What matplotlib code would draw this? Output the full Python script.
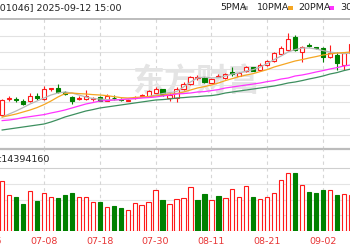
import matplotlib
matplotlib.use("Agg")
import matplotlib.pyplot as plt
import matplotlib.transforms as mtransforms
from matplotlib.patches import Rectangle
import numpy as np

# ---------------- data ----------------
dates = ['06-30', '07-01', '07-02', '07-03', '07-04', '07-07', '07-08', '07-09', '07-10', '07-11',
         '07-14', '07-15', '07-16', '07-17', '07-18', '07-21', '07-22', '07-23', '07-24', '07-25',
         '07-28', '07-29', '07-30', '07-31', '08-01', '08-04', '08-05', '08-06', '08-07', '08-08',
         '08-11', '08-12', '08-13', '08-14', '08-15', '08-18', '08-19', '08-20', '08-21', '08-22',
         '08-25', '08-26', '08-27', '08-28', '08-29', '09-01', '09-02', '09-03', '09-04', '09-05',
         '09-08']

opens = [14.25, 15.07, 15.05, 14.95, 14.95, 15.20, 15.05, 15.55, 15.60, 15.40,
         15.15, 15.07, 15.05, 15.07, 15.15, 14.97, 15.12, 15.05, 14.97, 15.10,
         15.20, 15.22, 15.37, 15.55, 15.10, 15.10, 15.55, 15.80, 16.12, 16.10,
         15.87, 16.17, 16.10, 16.40, 16.22, 16.45, 16.65, 16.52, 16.75, 16.95,
         17.32, 17.50, 18.15, 17.40, 17.77, 17.65, 17.60, 17.15, 17.25, 16.75,
         17.35]
closes = [15.00, 15.10, 15.02, 14.82, 15.20, 15.10, 15.55, 15.60, 15.40, 15.30,
          14.95, 15.12, 15.20, 15.12, 14.97, 15.20, 15.10, 15.00, 15.02, 15.15,
          15.25, 15.45, 15.57, 15.25, 15.25, 15.55, 15.82, 16.17, 16.15, 15.90,
          16.05, 16.20, 16.30, 16.32, 16.37, 16.65, 16.47, 16.77, 16.97, 17.35,
          17.60, 18.05, 17.50, 17.65, 17.72, 17.60, 17.15, 17.35, 16.85, 17.35,
          17.80]
highs = [15.05, 15.20, 15.15, 15.05, 15.35, 15.35, 15.70, 15.62, 15.80, 15.45,
         15.20, 15.20, 15.50, 15.15, 15.20, 15.30, 15.25, 15.10, 15.05, 15.20,
         15.30, 15.50, 15.67, 15.57, 15.35, 15.65, 15.92, 16.22, 16.27, 16.15,
         16.10, 16.30, 16.35, 16.65, 16.40, 16.70, 16.67, 16.85, 17.00, 17.40,
         17.70, 18.35, 18.25, 17.70, 17.85, 17.67, 17.65, 17.75, 17.40, 17.40,
         17.90]
lows = [14.20, 14.95, 14.90, 14.75, 14.90, 15.00, 15.00, 15.45, 15.35, 15.25,
        14.80, 15.02, 15.00, 14.95, 14.95, 14.95, 15.00, 14.95, 14.95, 15.07,
        15.17, 15.20, 15.35, 15.22, 14.95, 14.90, 15.50, 15.77, 16.00, 15.85,
        15.85, 16.15, 16.07, 16.20, 16.20, 16.42, 16.45, 16.50, 16.72, 16.90,
        17.30, 17.45, 17.45, 16.90, 17.65, 17.57, 16.90, 17.10, 16.50, 16.50,
        17.30]

ma5 = [14.15, 14.30, 14.45, 14.62, 14.80, 14.95, 15.10, 15.25, 15.35, 15.40,
       15.35, 15.25, 15.15, 15.07, 15.05, 15.02, 15.00, 15.02, 15.05, 15.07,
       15.12, 15.17, 15.25, 15.32, 15.37, 15.42, 15.65, 15.90, 16.10, 16.15,
       16.10, 16.12, 16.20, 16.30, 16.35, 16.45, 16.52, 16.65, 16.82, 17.02,
       17.20, 17.40, 17.52, 17.60, 17.60, 17.55, 17.47, 17.40, 17.35, 17.32,
       17.35]
ma10 = [14.15, 14.22, 14.30, 14.40, 14.50, 14.62, 14.77, 14.95, 15.15, 15.32,
        15.35, 15.32, 15.30, 15.27, 15.25, 15.22, 15.17, 15.12, 15.10, 15.12,
        15.15, 15.17, 15.20, 15.25, 15.30, 15.32, 15.40, 15.50, 15.60, 15.67,
        15.75, 15.85, 15.97, 16.07, 16.17, 16.25, 16.32, 16.42, 16.52, 16.65,
        16.75, 16.85, 16.95, 17.02, 17.10, 17.17, 17.25, 17.30, 17.35, 17.37,
        17.40]
ma20 = [13.97, 14.00, 14.05, 14.12, 14.17, 14.22, 14.27, 14.35, 14.42, 14.50,
        14.60, 14.70, 14.80, 14.87, 14.95, 14.97, 15.00, 15.02, 15.05, 15.07,
        15.10, 15.12, 15.15, 15.20, 15.25, 15.30, 15.32, 15.35, 15.40, 15.42,
        15.47, 15.52, 15.60, 15.65, 15.70, 15.75, 15.80, 15.85, 15.92, 15.97,
        16.05, 16.10, 16.20, 16.25, 16.32, 16.40, 16.47, 16.55, 16.62, 16.70,
        16.75]
ma30 = [13.50, 13.55, 13.60, 13.65, 13.70, 13.75, 13.80, 13.90, 14.02, 14.15,
        14.25, 14.35, 14.45, 14.52, 14.60, 14.65, 14.70, 14.75, 14.80, 14.85,
        14.90, 14.95, 15.00, 15.02, 15.05, 15.10, 15.12, 15.15, 15.17, 15.20,
        15.22, 15.27, 15.35, 15.40, 15.45, 15.50, 15.55, 15.60, 15.65, 15.70,
        15.77, 15.85, 15.90, 15.97, 16.05, 16.12, 16.20, 16.30, 16.37, 16.47,
        16.55]

volumes = [31.8, 22.9, 21.4, 17.1, 25.4, 19.1, 23.9, 21.8, 20.8, 22.9,
           23.9, 21.4, 21.4, 18.2, 18.2, 15.0, 16.1, 14.4, 13.1, 17.6,
           16.7, 18.2, 25.8, 19.7, 17.3, 20.3, 20.8, 27.7, 19.7, 23.7,
           19.7, 22.0, 20.8, 26.7, 21.8, 28.8, 21.8, 20.3, 21.8, 23.9,
           32.2, 36.6, 36.6, 29.2, 24.8, 24.1, 26.0, 25.8, 23.1, 23.7,
           22.9]  # millions of shares
vol_up = "RRGGRGRRGG" "GRRRGRGGRR" "RRRGRRRRGG" "RGRRRRGRRR" "RRGRGGGRGR" "R"

tick_labels = ['06-26', '07-08', '07-18', '07-30', '08-11', '08-21', '09-02']
price_grid = [13.25, 14.08, 14.91, 15.74, 16.57, 17.40, 18.22]
vol_grid = [10, 20, 30, 40]

header_text = '(001046] 2025-09-12 15:00'
vol_text = ':14394160'
legend_names = ['5PMA', '10PMA', '20PMA', '30PMA']
watermark = '东方财富'

# ---------------- styling ----------------
RED = '#ff1a1a'
GREEN = '#008000'
MA_COLORS = ['#b8b8b8', '#f5a623', '#ff33ff', '#3d8f5f']
W, H = 350, 250

fig = plt.figure(figsize=(W / 100, H / 100), dpi=100)
fig.patch.set_facecolor('white')


def fy(ypx):
    return 1 - ypx / H


ax = fig.add_axes([0, fy(149), 1, (149 - 19) / H])
axv = fig.add_axes([0, fy(231), 1, (231 - 149) / H])

x = np.arange(len(dates))
for a in (ax, axv):
    a.set_xlim(-0.31, 49.87)
    a.set_xticks([])
    a.set_yticks([])
    a.set_facecolor('none')
    for s in a.spines.values():
        s.set_visible(False)

ax.set_ylim(12.55, 19.05)
axv.set_ylim(0, 52.1)

ax.spines['top'].set_visible(True)
ax.spines['top'].set_color('#a9a9a9')
ax.spines['top'].set_linewidth(1.1)
ax.spines['bottom'].set_visible(True)
ax.spines['bottom'].set_color('#bcbcbc')
ax.spines['bottom'].set_linewidth(1.6)

for g in price_grid:
    ax.axhline(g, color='#e2e2e2', lw=0.8, zorder=0)
for g in vol_grid:
    axv.axhline(g, color='#cfcfcf' if g == max(vol_grid) else '#e4e4e4', lw=0.8, zorder=0)

tick_step = 8
first_tick = dates.index(tick_labels[1]) - tick_step
tick_pos = [dates.index(t) if t in dates else first_tick for t in tick_labels]
for p in tick_pos:
    for a in (ax, axv):
        a.axvline(p, color='#d6d6d6', lw=0.8, ls=(0, (3, 3)), zorder=0)

# watermark
ax.text(0.56, fy(83), watermark, transform=fig.transFigure, ha='center', va='center',
        fontsize=23, fontweight='bold', family=['Noto Sans CJK SC'], color='#e4e4e4', zorder=0.5)

# candles
o = np.array(opens); c = np.array(closes)
up = c >= o
ccol = np.where(up, RED, GREEN)
ax.vlines(x, lows, highs, colors=ccol, lw=0.8, zorder=2)
bottom = np.minimum(o, c)
height = np.maximum(np.abs(c - o), 0.015)
ax.bar(x, height, bottom=bottom, width=0.6, color=np.where(up, 'white', GREEN),
       edgecolor=ccol, linewidth=0.8, zorder=3)

# moving averages
for ma, col in zip([ma5, ma10, ma20, ma30], MA_COLORS):
    ax.plot(x, ma, color=col, lw=0.9, zorder=4)

# volume
vup = np.array([ch == 'R' for ch in vol_up])
axv.bar(x, volumes, width=0.62, color=np.where(vup, 'white', GREEN),
        edgecolor=np.where(vup, RED, GREEN), linewidth=0.8, zorder=3)

# date labels
trans = mtransforms.blended_transform_factory(axv.transData, axv.transAxes)
for p, lbl in zip(tick_pos, tick_labels):
    axv.text(p, (231 - 241) / 82, lbl, transform=trans, ha='center', va='center',
             fontsize=6.8, color='#e83535', clip_on=False)

# header texts
fig.text(121 / W, fy(8), header_text, ha='right', va='center', fontsize=6.8, color='#222222')
fig.text(-1 / W, fy(160), vol_text, ha='left', va='center', fontsize=6.8, color='#222222')

leg_x = [220, 257, 298, 340]
dash_x = [243, 288, 329, 372]
for name, lx, dx, col in zip(legend_names, leg_x, dash_x, MA_COLORS):
    fig.text(lx / W, fy(8), name, ha='left', va='center', fontsize=6.8, color='#222222')
    fig.add_artist(Rectangle((dx / W, fy(9.5)), 5 / W, 3 / H, transform=fig.transFigure,
                             facecolor=col, edgecolor='none'))

fig.savefig('out.png', dpi=100)
